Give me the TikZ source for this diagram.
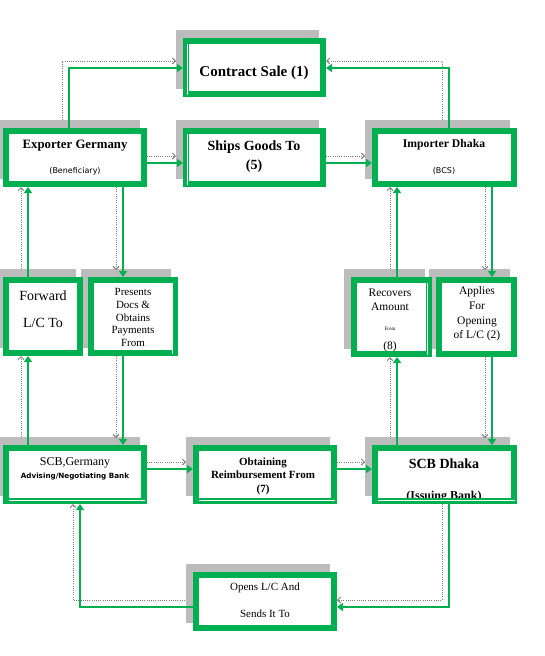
\documentclass[tikz,border=0pt]{standalone}
\usepackage{fontspec}
\setmainfont{Liberation Serif}
\newfontfamily\smallsans{DejaVu Sans}
\usetikzlibrary{arrows.meta}
\pgfdeclarelayer{shadowlayer}
\pgfdeclarelayer{dotlayer}
\pgfsetlayers{shadowlayer,dotlayer,main}
\definecolor{wgreen}{RGB}{0,176,80}
\definecolor{shd}{RGB}{188,188,188}
\definecolor{dotgray}{RGB}{128,128,128}
\begin{document}
\begin{tikzpicture}[x=1pt,y=-1pt,
  box/.style={draw=wgreen,line width=6pt,fill=white,inner sep=0pt,outer sep=3pt},
  bord/.style={draw=wgreen,line width=6pt},
  txt/.style={inner sep=0pt,align=center,text=black},
  gc/.style={draw=wgreen,line width=2pt,-{Triangle[width=8pt,length=6pt]}},
  gd/.style={draw=dotgray,line width=0.9pt,dash pattern=on 1pt off 1.2pt,-{Straight Barb[length=3pt,width=6pt]}},
  gdT/.style={gd,shorten <=8pt},
  ends/.style={shorten >=7pt}
]
\useasboundingbox (0,0) rectangle (544,656);
% boxes
\node[box,minimum width=137,minimum height=53] (cs) at (254.5,67.5) {};
\node[box,minimum width=138,minimum height=53] (ex) at (75,157.5) {};
\node[box,minimum width=137,minimum height=53] (sg) at (254.5,157.5) {};
\node[box,minimum width=139,minimum height=53] (im) at (444.5,157.5) {};
\node[box,minimum width=74,minimum height=73] (fw) at (43,316.5) {};
\node[box,minimum width=84,minimum height=73] (pr) at (133,316.5) {};
\node[box,minimum width=75,minimum height=74] (rc) at (391.5,317) {};
\node[box,minimum width=75,minimum height=74] (ap) at (476.5,317) {};
\node[box,minimum width=138,minimum height=53] (sgr) at (75,474.5) {};
\node[box,minimum width=138,minimum height=53] (ob) at (265,474.5) {};
\node[box,minimum width=139,minimum height=53] (sd) at (444.5,474.5) {};
\node[box,minimum width=138,minimum height=53] (op) at (265,601.5) {};
% shadows
\begin{pgfonlayer}{shadowlayer}
\foreach \n in {cs,ex,sg,im,fw,pr,rc,ap,sgr,ob,sd,op}
  \fill[shd] ([shift={(-7,-8)}]\n.north west) rectangle ([shift={(-7,-8)}]\n.south east);
\end{pgfonlayer}
% texts
\node[txt,font=\bfseries\fontsize{15}{17}\selectfont] (cs-t) at (254,73) {Contract Sale (1)};
\node[txt,font=\bfseries\fontsize{12.8}{14}\selectfont] (ex-t1) at (75,146) {Exporter Germany};
\node[txt,font=\smallsans\fontsize{8}{9}\selectfont] (ex-t2) at (75,171) {(Beneficiary)};
\node[txt,font=\bfseries\fontsize{14}{16}\selectfont] (sg-t1) at (254,147) {Ships Goods To};
\node[txt,font=\bfseries\fontsize{14}{16}\selectfont] (sg-t2) at (254,166) {(5)};
\node[txt,font=\bfseries\fontsize{11.7}{14}\selectfont] (im-t1) at (444,145) {Importer Dhaka};
\node[txt,font=\smallsans\fontsize{8}{9}\selectfont] (im-t2) at (444,171) {(BCS)};
\node[txt,font=\fontsize{14}{16}\selectfont] (fw-t1) at (43,296) {Forward};
\node[txt,font=\fontsize{14}{16}\selectfont] (fw-t2) at (43,323) {L/C To};
\node[txt,font=\fontsize{11}{12.75}\selectfont] (pr-t) at (133,317.5) {Presents\\Docs \&\\Obtains\\Payments\\From};
\node[txt,font=\fontsize{11.5}{14}\selectfont] (rc-t1) at (390,293) {Recovers};
\node[txt,font=\fontsize{11.5}{14}\selectfont] (rc-t2) at (390,307) {Amount};
\node[txt,font=\fontsize{5}{6}\selectfont] (rc-t3) at (390,329) {From};
\node[txt,font=\fontsize{11.5}{14}\selectfont] (rc-t4) at (390,347) {(8)};
\node[txt,font=\fontsize{11.5}{14.7}\selectfont] (ap-t) at (477,314) {Applies\\For\\Opening\\of L/C (2)};
\node[txt,font=\fontsize{12}{14}\selectfont] (sgr-t1) at (75,463) {SCB,Germany};
\node[txt,font=\smallsans\bfseries\fontsize{7.2}{8}\selectfont] (sgr-t2) at (75,477) {Advising/Negotiating Bank};
\node[txt,font=\bfseries\fontsize{11}{13.5}\selectfont] (ob-t) at (263,476) {Obtaining\\Reimbursement From\\(7)};
\node[txt,font=\bfseries\fontsize{14}{16}\selectfont] (sd-t1) at (444,464) {SCB Dhaka};
\node[txt,font=\bfseries\fontsize{12}{14}\selectfont] (sd-t2) at (444,497) {(Issuing Bank)};
\node[txt,font=\fontsize{11}{13}\selectfont] (op-t1) at (265,588) {Opens L/C And};
\node[txt,font=\fontsize{11}{13}\selectfont] (op-t2) at (265,614) {Sends It To};
% borders over text
\foreach \n in {cs,ex,sg,im,fw,pr,rc,ap,sgr,ob,sd,op}
  \draw[bord] ([shift={(3,3)}]\n.north west) rectangle ([shift={(-3,-3)}]\n.south east);
% thin white lines inside some borders
\draw[white,line width=0.8pt] (187.5,44) -- (187.5,95);
\draw[white,line width=0.8pt] (187.5,134) -- (187.5,185);
\draw[white,line width=0.8pt] (172.5,283) -- (172.5,354);
\draw[white,line width=0.8pt] (427.5,283) -- (427.5,355);
\draw[white,line width=0.8pt] (9,500.5) -- (145,500.5);
\draw[white,line width=0.8pt] (199,500.5) -- (335,500.5);
\draw[white,line width=0.8pt] (378,500.5) -- (515,500.5);
% dotted duplicate connectors
\begin{pgfonlayer}{dotlayer}
\draw[gdT,ends] (ex.north -| 62,0) |- (cs.west |- 0,61);
\draw[gdT] (im.north -| 442,0) |- (cs.east |- 0,61);
\draw[gd,ends] (ex.east |- 0,156) -- (sg.west |- 0,156);
\draw[gd,ends] (sg.east |- 0,156) -- (im.west |- 0,156);
\draw[gd,ends] (ex.south -| 116,0) -- (pr.north -| 116,0);
\draw[gdT] (fw.north -| 21,0) -- (ex.south -| 21,0);
\draw[gdT] (sgr.north -| 21,0) -- (fw.south -| 21,0);
\draw[gd,ends] (pr.south -| 116,0) -- (sgr.north -| 116,0);
\draw[gd,ends] (sgr.east |- 0,462) -- (ob.west |- 0,462);
\draw[gd,ends] (ob.east |- 0,462) -- (sd.west |- 0,462);
\draw[gd,ends] (im.south -| 485,0) -- (ap.north -| 485,0);
\draw[gd,ends] (ap.south -| 485,0) -- (sd.north -| 485,0);
\draw[gdT] (sd.north -| 390,0) -- (rc.south -| 390,0);
\draw[gdT] (rc.north -| 390,0) -- (im.south -| 390,0);
\draw[gd] (sd.south -| 442,0) |- (op.east |- 0,600);
\draw[gdT] (op.west |- 0,600) -| (sgr.south -| 73,0);
\end{pgfonlayer}
% green connectors
\draw[gc] (ex.north -| 69,0) |- (cs.west |- 0,68);
\draw[gc] (im.north -| 449,0) |- (cs.east |- 0,68);
\draw[gc] (ex.east |- 0,163) -- (sg.west |- 0,163);
\draw[gc] (sg.east |- 0,163) -- (im.west |- 0,163);
\draw[gc] (ex.south -| 123,0) -- (pr.north -| 123,0);
\draw[gc] (fw.north -| 28,0) -- (ex.south -| 28,0);
\draw[gc] (sgr.north -| 28,0) -- (fw.south -| 28,0);
\draw[gc] (pr.south -| 123,0) -- (sgr.north -| 123,0);
\draw[gc] (sgr.east |- 0,469) -- (ob.west |- 0,469);
\draw[gc] (ob.east |- 0,469) -- (sd.west |- 0,469);
\draw[gc] (im.south -| 492,0) -- (ap.north -| 492,0);
\draw[gc] (ap.south -| 492,0) -- (sd.north -| 492,0);
\draw[gc] (sd.north -| 397,0) -- (rc.south -| 397,0);
\draw[gc] (rc.north -| 397,0) -- (im.south -| 397,0);
\draw[gc] (sd.south -| 449,0) |- (op.east |- 0,607);
\draw[gc] (op.west |- 0,607) -| (sgr.south -| 80,0);
\end{tikzpicture}
\end{document}
